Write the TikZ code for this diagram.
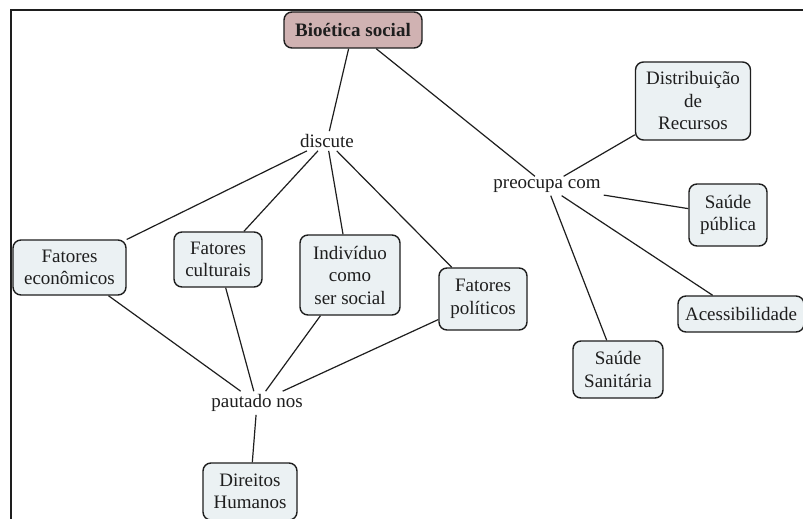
\documentclass[tikz,border=0pt]{standalone}
\usepackage{fontspec}
\setmainfont{Liberation Serif}
\definecolor{boxfill}{HTML}{EBF1F3}
\definecolor{rootfill}{HTML}{D0B2B2}
\definecolor{ink}{HTML}{1E1E1E}
\begin{document}
\begin{tikzpicture}[x=1pt,y=-1pt,
  every node/.style={font=\fontsize{19}{22.5}\selectfont, text=ink},
  concept/.style={draw=ink, line width=1.4pt, fill=boxfill, rounded corners=8pt, align=center, inner sep=0pt},
  root/.style={concept, fill=rootfill, font=\fontsize{19}{22.5}\selectfont\bfseries},
  linkword/.style={inner sep=3pt, align=center},
  conn/.style={draw=ink, line width=1.2pt}]
\useasboundingbox (0,0) rectangle (803,519);
\fill[white] (0,0) rectangle (803,519);
\draw[line width=2pt, ink] (803,10) -- (11,10) -- (11,519);

\node[root, minimum width=138pt, minimum height=36pt] (bio) at (353,30) {Bioética social};
\node[linkword] (disc) at (327,141) {discute};
\node[linkword] (preo) at (547,186) {preocupa com};
\node[linkword] (paut) at (257,403) {pautado nos};

\node[concept, minimum width=115pt, minimum height=78pt] (dist) at (693,101) {Distribuição\\de\\Recursos};
\node[concept, minimum width=78pt, minimum height=62pt] (spub) at (728,215) {Saúde\\pública};
\node[concept, minimum width=126pt, minimum height=36pt] (aces) at (741,314) {Acessibilidade};
\node[concept, minimum width=90pt, minimum height=57pt] (ssan) at (618,369.5) {Saúde\\Sanitária};

\node[concept, minimum width=113pt, minimum height=55pt] (econ) at (69.5,267.5) {Fatores\\econômicos};
\node[concept, minimum width=88pt, minimum height=55pt] (cult) at (218,259.5) {Fatores\\culturais};
\node[concept, minimum width=100pt, minimum height=80pt] (indi) at (350,275) {Indivíduo\\como\\ser social};
\node[concept, minimum width=88pt, minimum height=62pt] (poli) at (483,299) {Fatores\\políticos};
\node[concept, minimum width=94pt, minimum height=57pt] (dire) at (250,491.5) {Direitos\\Humanos};

\draw[conn] (bio) -- (disc);
\draw[conn] (bio) -- (preo);
\draw[conn] (disc) -- (econ);
\draw[conn] (disc) -- (cult);
\draw[conn] (disc) -- (indi);
\draw[conn] (disc) -- (poli);
\draw[conn] (preo) -- (dist);
\draw[conn] (preo) -- (spub);
\draw[conn] (preo) -- (aces);
\draw[conn] (preo) -- (ssan);
\draw[conn] (econ) -- (paut);
\draw[conn] (cult) -- (paut);
\draw[conn] (indi) -- (paut);
\draw[conn] (poli) -- (paut);
\draw[conn] (paut) -- (dire);
\end{tikzpicture}
\end{document}
